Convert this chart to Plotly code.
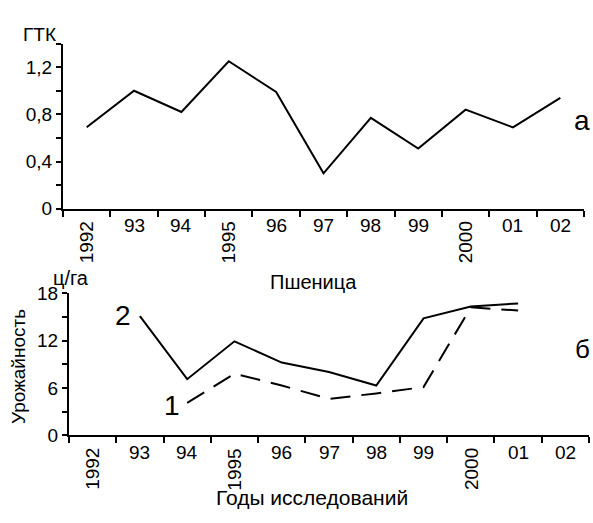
import plotly.graph_objects as go

# ---- data ----
years = ["1992", "93", "94", "1995", "96", "97", "98", "99", "2000", "01", "02"]
gtk = [0.69, 1.00, 0.82, 1.25, 0.99, 0.30, 0.77, 0.51, 0.84, 0.69, 0.94]
yield_2 = [None, 15.1, 7.1, 11.9, 9.2, 8.0, 6.3, 14.8, 16.3, 16.7, None]
yield_1 = [None, None, 4.1, 7.8, 6.3, 4.6, 5.3, 6.1, 16.2, 15.8, None]

gtk_ticks = [0, 0.2, 0.4, 0.6, 0.8, 1.0, 1.2, 1.4]
gtk_ticktext = ["0", "", "0,4", "", "0,8", "", "1,2", ""]
yld_ticks = [0, 3, 6, 9, 12, 15, 18]
yld_ticktext = ["0", "", "6", "", "12", "", "18"]

FONT = "Liberation Sans, Arial, sans-serif"
W, H = 593, 523
TICK_SIZE = 19

idx = list(range(len(years)))
xticks = [i - 0.5 for i in range(len(years) + 1)]

fig = go.Figure()
fig.add_trace(go.Scatter(x=idx, y=gtk, mode="lines", line=dict(color="black", width=2),
                         xaxis="x", yaxis="y", showlegend=False))
fig.add_trace(go.Scatter(x=idx, y=yield_2, mode="lines", line=dict(color="black", width=2),
                         xaxis="x2", yaxis="y2", showlegend=False))
fig.add_trace(go.Scatter(x=idx, y=yield_1, mode="lines",
                         line=dict(color="black", width=2, dash="20px,11px"),
                         xaxis="x2", yaxis="y2", showlegend=False))

def px_x(p):
    return p / W

def px_y(p):
    return 1 - p / H

line_common = dict(showline=True, linecolor="black", linewidth=2, showgrid=False,
                   zeroline=False, ticks="outside", tickcolor="black", tickwidth=2)
yfont = dict(tickfont=dict(family=FONT, size=TICK_SIZE, color="black"))

fig.update_layout(
    width=W, height=H,
    margin=dict(l=0, r=0, t=0, b=0),
    paper_bgcolor="white", plot_bgcolor="white",
    xaxis=dict(domain=[px_x(63), px_x(584)], range=[-0.5, 10.5], tickvals=xticks,
               ticktext=[""] * len(xticks), ticklen=6, anchor="y", **line_common),
    yaxis=dict(domain=[px_y(207), px_y(35)], range=[0, 1.4], tickvals=gtk_ticks,
               ticktext=gtk_ticktext, ticklen=5, anchor="x", **line_common, **yfont),
    xaxis2=dict(domain=[px_x(69), px_x(589)], range=[-0.5, 10.5], tickvals=xticks,
                ticktext=[""] * len(xticks), ticklen=6, anchor="y2", **line_common),
    yaxis2=dict(domain=[px_y(443), px_y(295)], range=[0, 18], tickvals=yld_ticks,
                ticktext=yld_ticktext, ticklen=5, anchor="x2", **line_common, **yfont),
)

ann = []
for xa, ya in (("x", "y"), ("x2", "y2")):
    for i, lab in enumerate(years):
        if len(lab) == 4:
            ann.append(dict(x=i, y=0, xref=xa, yref=ya + " domain", text=lab, textangle=-90,
                            showarrow=False, xanchor="center", yanchor="top", yshift=-11,
                            font=dict(family=FONT, size=TICK_SIZE, color="black")))
        else:
            ann.append(dict(x=i, y=0, xref=xa, yref=ya + " domain", text=lab,
                            showarrow=False, xanchor="center", yanchor="middle", yshift=-17,
                            font=dict(family=FONT, size=TICK_SIZE, color="black")))

def txt(x, y, s, size, angle=0, xanchor="center"):
    ann.append(dict(x=px_x(x), y=px_y(y), xref="paper", yref="paper", text=s, textangle=angle,
                    showarrow=False, xanchor=xanchor, yanchor="middle",
                    font=dict(family=FONT, size=size, color="black")))

txt(39, 26, "ГТК", 19)
txt(313, 283, "Пшеница", 20)
txt(71, 279, "ц/га", 20)
txt(18, 372, "Урожайность", 19, angle=-90)
txt(312, 508, "Годы исследований", 21)
txt(592, 115, "а", 28, xanchor="right")
txt(592, 353, "б", 26, xanchor="right")
txt(123, 318, "2", 28)
txt(172, 412, "1", 28)

fig.update_layout(annotations=ann)
fig.write_html("out.html", config={"displayModeBar": False},
               post_script="document.body.style.margin='0';document.body.style.padding='0';"
                           "document.body.style.overflow='hidden';")
